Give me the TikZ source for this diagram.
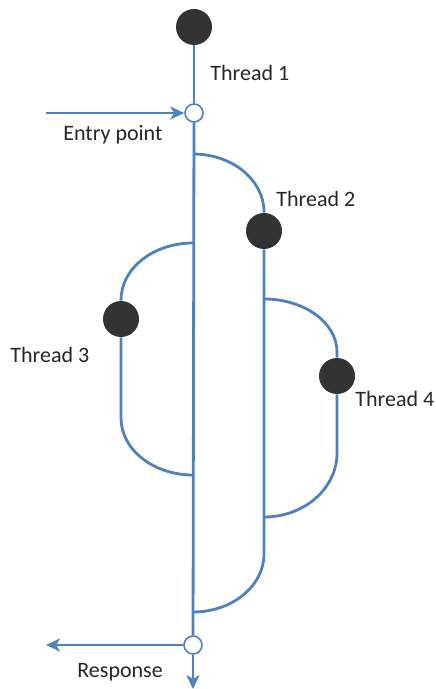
\documentclass[tikz,border=0pt]{standalone}
\usepackage{fontspec}
\setmainfont{Carlito}
\usepackage{tikz}
\usetikzlibrary{arrows.meta}
\definecolor{threadBlue}{HTML}{4F81BD}
\definecolor{threadInk}{HTML}{333333}
\definecolor{threadText}{HTML}{262626}
\tikzset{
  threadDot/.style={
    circle,
    fill=threadInk,
    draw=none,
    minimum size=18pt,
    inner sep=0pt
  },
  junction/.style={
    circle,
    fill=white,
    draw=threadBlue,
    line width=0.8pt,
    minimum size=9pt,
    inner sep=0pt
  },
  flow/.style={
    line width=1.4pt,
    draw=threadBlue
  },
  flowArrow/.style={
    flow,
    -{Stealth[length=7pt,width=6.5pt,inset=2pt]}
  },
  threadLabel/.style={
    anchor=base west,
    inner sep=0pt,
    text=threadText,
    font=\fontsize{11}{13}\selectfont
  }
}

\begin{document}
\begin{tikzpicture}[x=0.5pt,y=-0.5pt]
  \useasboundingbox (0,0) rectangle (435,689);
  % main thread
  \node[threadDot] (t1) at (194,27) {};
  \node[junction] (entry) at (194,113) {};
  \node[junction] (resp) at (193,645) {};
  \coordinate (entryIn) at (46,113);
  \coordinate (respOut) at (46,645);
  \coordinate (respDown) at (193,689);
  % forked threads
  \node[threadDot] (t2) at (264,231) {};
  \node[threadDot] (t3) at (121,319) {};
  \node[threadDot] (t4) at (337,376) {};
  \coordinate (fork2) at (193,154);
  \coordinate (fork3) at (193,243);
  \coordinate (fork4) at (264,299);
  % labels
  \node[threadLabel] (l1) at (210,81) {Thread 1};
  \node[threadLabel] (l2) at (276,207) {Thread 2};
  \node[threadLabel] (l3) at (10,362) {Thread 3};
  \node[threadLabel] (l4) at (355,406) {Thread 4};
  \node[threadLabel] (lEntry) at (63,141) {Entry point};
  \node[threadLabel] (lResp) at (77,677) {Response};
  % connectors
  \draw[flow] (t1) -- (entry);
  \draw[flow] (entry) -- (resp);
  \draw[flowArrow] (entryIn) -- (entry);
  \draw[flowArrow] (resp) -- (respOut);
  \draw[flowArrow] (resp) -- (respDown);
  \draw[flow] (fork2) arc[start angle=-90,end angle=0,x radius=71,y radius=58] -- (t2);
  \draw[flow] (t2) -- (264,554) arc[start angle=0,end angle=90,x radius=71,y radius=58];
  \draw[flow] (fork3) arc[start angle=-90,end angle=-180,x radius=72,y radius=57] -- (t3);
  \draw[flow] (t3) -- (121,418) arc[start angle=180,end angle=90,x radius=72,y radius=57];
  \draw[flow] (fork4) arc[start angle=-90,end angle=0,x radius=73,y radius=53] -- (t4);
  \draw[flow] (t4) -- (337,453) arc[start angle=0,end angle=90,x radius=73,y radius=64];
\end{tikzpicture}
\end{document}
